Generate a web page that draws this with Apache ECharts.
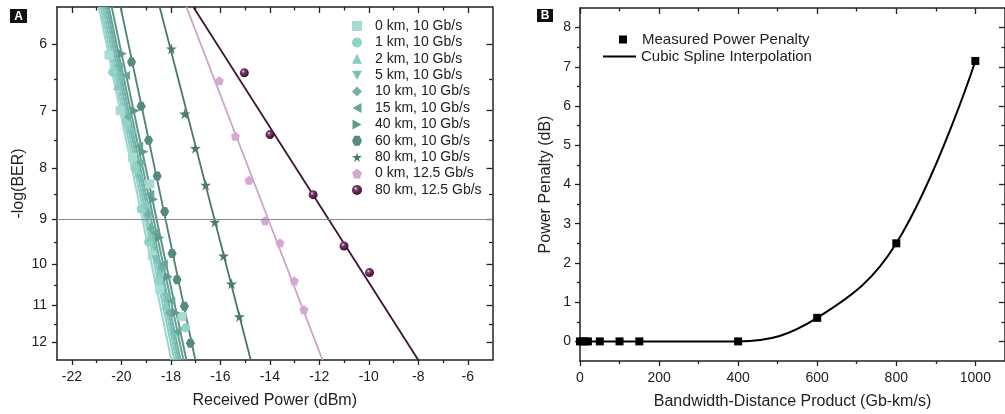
<!DOCTYPE html>
<html><head><meta charset="utf-8">
<script src="https://cdn.jsdelivr.net/npm/echarts@6/dist/echarts.min.js"></script>
<style>html,body{margin:0;padding:0;background:#fff}#c{width:1005px;height:414px}</style>
</head><body><div id="c"></div><script>
// ---------- Panel A data ----------
const xTicksA = [-22,-20,-18,-16,-14,-12,-10,-8,-6];
const xMinorA = [-21,-19,-17,-15,-13,-11,-9,-7];
const yTicksA = [6,7,8,9,10,11,12];
const yMinorA = [6.5,7.5,8.5,9.5,10.5,11.5];
const berThreshold = 9;
const seriesNamesA = ['0 km, 10 Gb/s','1 km, 10 Gb/s','2 km, 10 Gb/s','5 km, 10 Gb/s','10 km, 10 Gb/s','15 km, 10 Gb/s','40 km, 10 Gb/s','60 km, 10 Gb/s','80 km, 10 Gb/s','0 km, 12.5 Gb/s','80 km, 12.5 Gb/s'];
const pts0km = [[-20.5,6.15],[-20.05,7.0],[-19.55,7.8],[-18.85,8.3],[-19.0,9.0],[-18.75,9.8],[-18.45,10.6],[-17.55,11.3]];
const pts1km = [[-20.35,6.4],[-19.8,7.2],[-19.45,8.0],[-19.2,8.8],[-18.9,9.5],[-18.5,10.4],[-17.4,11.6]];
const pts2km = [[-20.15,6.6],[-19.65,7.3],[-19.3,8.1],[-19.0,8.7],[-18.85,9.4],[-18.45,10.2],[-18.2,11.0]];
const pts5km = [[-20.0,6.5],[-19.55,7.4],[-19.25,8.2],[-18.95,9.0],[-18.6,9.9],[-18.15,10.8],[-17.85,11.8]];
const pts10km = [[-20.05,6.3],[-19.7,7.1],[-19.2,7.9],[-18.9,8.9],[-18.8,9.2],[-18.35,10.1],[-18.05,11.2]];
const pts15km = [[-19.83,6.45],[-19.3,7.6],[-18.85,8.5],[-18.65,9.3],[-18.3,10.0],[-18.0,10.9],[-17.75,11.7]];
const pts40km = [[-19.96,6.13],[-19.45,7.0],[-19.1,7.7],[-18.7,8.6],[-18.45,9.4],[-18.1,10.3],[-17.8,11.2]];
const pts60km = [[-19.59,6.25],[-19.2,6.93],[-18.9,7.5],[-18.55,8.15],[-18.25,8.85],[-17.95,9.76],[-17.75,10.37],[-17.45,11.03],[-17.21,12.02]];
const pts80km = [[-17.98,6.06],[-17.44,7.05],[-17.01,7.64],[-16.59,8.32],[-16.22,9.07],[-15.87,9.81],[-15.55,10.47],[-15.23,11.30]];
const pts0km125 = [[-16.04,6.53],[-15.39,7.43],[-14.84,8.23],[-14.19,9.04],[-13.59,9.52],[-13.01,10.40],[-12.62,11.12]];
const pts80km125 = [[-15.03,6.41],[-13.99,7.40],[-12.25,8.51],[-11.0,9.59],[-9.97,10.2]];
const fit0km = [[-20.91,5.5],[-17.98,12.5]];
const fit1km = [[-20.83,5.5],[-17.86,12.5]];
const fit2km = [[-20.75,5.5],[-17.77,12.5]];
const fit5km = [[-20.67,5.5],[-17.69,12.5]];
const fit10km = [[-20.59,5.5],[-17.61,12.5]];
const fit15km = [[-20.51,5.5],[-17.49,12.5]];
const fit40km = [[-20.39,5.5],[-17.37,12.5]];
const fit60km = [[-20.03,5.5],[-17.01,12.5]];
const fit80km = [[-18.45,5.5],[-14.77,12.5]];
const fit0km125 = [[-17.37,5.5],[-11.87,12.5]];
const fit80km125 = [[-17.09,5.5],[-8.0,12.5]];

// ---------- Panel B data ----------
const bdp = [0,10,20,50,100,150,400,600,800,1000];
const penalty = [0,0,0,0,0,0,0,0.6,2.5,7.15];
const xTicksB = [0,200,400,600,800,1000];
const xMinorB = [100,300,500,700,900];
const yTicksB = [0,1,2,3,4,5,6,7,8];
const yMinorB = [0.5,1.5,2.5,3.5,4.5,5.5,6.5,7.5];

// ---------- styling ----------
const FONT = 'Liberation Sans, Arial, sans-serif';
const AX = '#222';
const colors = ['#a6dcd4','#92d3c9','#86cac0','#7bbfb5','#70b2a7','#67a69a','#5f9a8e','#568a80','#4b7a70','#d5a8d1','#4a1a40'];
const symbols = [
  'rect','circle','triangle',
  'path://M0,0 L100,0 L50,90 Z',
  'diamond',
  'path://M0,50 L90,0 L90,100 Z',
  'path://M0,0 L90,50 L0,100 Z',
  'path://M25,0 L75,0 L100,50 L75,100 L25,100 L0,50 Z',
  'path://M50,0 L61,35 L98,35 L68,57 L79,91 L50,70 L21,91 L32,57 L2,35 L39,35 Z',
  'path://M50,0 L100,38 L81,100 L19,100 L0,38 Z',
  'circle'
];
const ptsA = [pts0km,pts1km,pts2km,pts5km,pts10km,pts15km,pts40km,pts60km,pts80km,pts0km125,pts80km125];
const fitsA = [fit0km,fit1km,fit2km,fit5km,fit10km,fit15km,fit40km,fit60km,fit80km,fit0km125,fit80km125];
const lineColors = ['#9ad7cf','#8ccfc5','#82c7bc','#78bcb1','#6eb0a5','#65a397','#5c978b','#4f8278','#4a776d','#cfa1cb','#3e1535'];

function axes(grid, dim, type, min, max, majors, minors, name, nameGap, inverse, labelMargin) {
  const base = {gridIndex: grid, type: type, min: min, max: max, inverse: !!inverse,
    splitLine: {show: false}, axisLine: {show: false, onZero: false, lineStyle: {color: AX, width: 1.5}}};
  if (type === 'log') base.logBase = 10;
  const p1 = dim === 'x' ? 'bottom' : 'left';
  const p2 = dim === 'x' ? 'top' : 'right';
  const tk = (vals, len, inside) => ({show: true, inside: inside, customValues: vals, length: len, lineStyle: {color: AX, width: 1.3}});
  return [
    Object.assign({}, base, {position: p1, name: name, nameLocation: 'middle', nameGap: nameGap,
      nameTextStyle: {fontFamily: FONT, fontSize: 16, color: '#222'},
      axisLine: {show: true, onZero: false, lineStyle: {color: AX, width: 1.5}},
      axisTick: tk(majors, 5, false),
      axisLabel: {show: true, customValues: majors, margin: labelMargin, fontFamily: FONT, fontSize: 14, color: '#222',
        formatter: v => String(Math.round(v * 100) / 100)}}),
    Object.assign({}, base, {position: p1, axisTick: tk(minors, 3, false), axisLabel: {show: false}}),
    Object.assign({}, base, {position: p2, axisLine: {show: true, onZero: false, lineStyle: {color: AX, width: 1.5}},
      axisTick: tk(majors, 6, true), axisLabel: {show: false}}),
    Object.assign({}, base, {position: p2, axisTick: tk(minors, 3.5, true), axisLabel: {show: false}})
  ];
}

const xAxis = [].concat(
  axes(0, 'x', 'value', -22.6, -5.0, xTicksA, xMinorA, 'Received Power (dBm)', 33, false, 10),
  axes(1, 'x', 'value', 0, 1075, xTicksB, xMinorB, 'Bandwidth-Distance Product (Gb-km/s)', 33, false, 10)
);
const yAxis = [].concat(
  axes(0, 'y', 'log', 5.5, 12.5, yTicksA, yMinorA, '-log(BER)', 30, true, 10),
  axes(1, 'y', 'value', -0.5, 8.5, yTicksB, yMinorB, 'Power Penalty (dB)', 26, false, 9)
);

const series = [];
// fitted lines (panel A)
fitsA.forEach((d, i) => {
  series.push({type: 'line', xAxisIndex: 0, yAxisIndex: 0, data: d, showSymbol: false, symbol: 'none',
    silent: true, clip: true, z: 2,
    lineStyle: {color: lineColors[i], width: i >= 7 ? 1.8 : 2}});
});
// threshold line
series.push({type: 'line', xAxisIndex: 0, yAxisIndex: 0, data: [], silent: true, z: 1,
  markLine: {silent: true, symbol: 'none', label: {show: false}, lineStyle: {color: '#8a8a8a', width: 1.2, type: 'solid'},
    data: [{yAxis: berThreshold}]}});
// measured points (panel A)
ptsA.forEach((d, i) => {
  let color = colors[i];
  if (i === 10) {
    color = new echarts.graphic.RadialGradient(0.38, 0.35, 0.65, [
      {offset: 0, color: '#f2dcea'}, {offset: 0.3, color: '#7a3a6c'}, {offset: 1, color: '#3a0f30'}]);
  }
  series.push({type: 'scatter', name: seriesNamesA[i], xAxisIndex: 0, yAxisIndex: 0, data: d,
    symbol: symbols[i], symbolSize: i === 8 ? 11 : 9, z: 3,
    itemStyle: {color: color, opacity: 1}});
});
// panel B
series.push({type: 'line', name: 'Cubic Spline Interpolation', xAxisIndex: 4, yAxisIndex: 4,
  data: bdp.map((x, i) => [x, penalty[i]]), smooth: 0.4, showSymbol: false, symbol: 'none', z: 2,
  lineStyle: {color: '#000', width: 2}, itemStyle: {color: '#000'}});
series.push({type: 'scatter', name: 'Measured Power Penalty', xAxisIndex: 4, yAxisIndex: 4,
  data: bdp.map((x, i) => [x, penalty[i]]), symbol: 'rect', symbolSize: 8, z: 3,
  itemStyle: {color: '#000', opacity: 1}});

const option = {
  animation: false,
  backgroundColor: '#fff',
  grid: [
    {left: 57, top: 7, width: 435.5, height: 353, outerBoundsMode: 'none', containLabel: false},
    {left: 580, top: 8, width: 425, height: 353, outerBoundsMode: 'none', containLabel: false}
  ],
  xAxis: xAxis,
  yAxis: yAxis,
  legend: [
    {data: seriesNamesA, orient: 'vertical', left: 347, top: 14, itemWidth: 10, itemHeight: 10, itemGap: 2.4,
     selectedMode: false, textStyle: {fontFamily: FONT, fontSize: 14, color: '#222', padding: [0, 0, 0, 8]}},
    {data: ['Measured Power Penalty'], orient: 'vertical', left: 614, top: 27, itemWidth: 8, itemHeight: 8,
     selectedMode: false, textStyle: {fontFamily: FONT, fontSize: 15, color: '#222', padding: [0, 0, 0, 10]}},
    {data: [{name: 'Cubic Spline Interpolation', icon: 'rect'}], orient: 'vertical', left: 598, top: 44, itemWidth: 33, itemHeight: 2,
     selectedMode: false, textStyle: {fontFamily: FONT, fontSize: 15, color: '#222', padding: [0, 0, 0, 0]}}
  ],
  graphic: [
    {type: 'group', left: 10, top: 9, children: [
      {type: 'rect', shape: {x: 0, y: 0, width: 17, height: 14}, style: {fill: '#111'}},
      {type: 'text', x: 8.5, y: 7.5, style: {text: 'A', fill: '#fff', font: 'bold 12px ' + FONT, textAlign: 'center', textVerticalAlign: 'middle'}}
    ]},
    {type: 'group', left: 537, top: 9, children: [
      {type: 'rect', shape: {x: 0, y: 0, width: 16, height: 13}, style: {fill: '#111'}},
      {type: 'text', x: 8, y: 7, style: {text: 'B', fill: '#fff', font: 'bold 12px ' + FONT, textAlign: 'center', textVerticalAlign: 'middle'}}
    ]}
  ],
  series: series
};
const chart = echarts.init(document.getElementById('c'), null, {renderer: 'canvas'});
chart.setOption(option);
</script></body></html>
